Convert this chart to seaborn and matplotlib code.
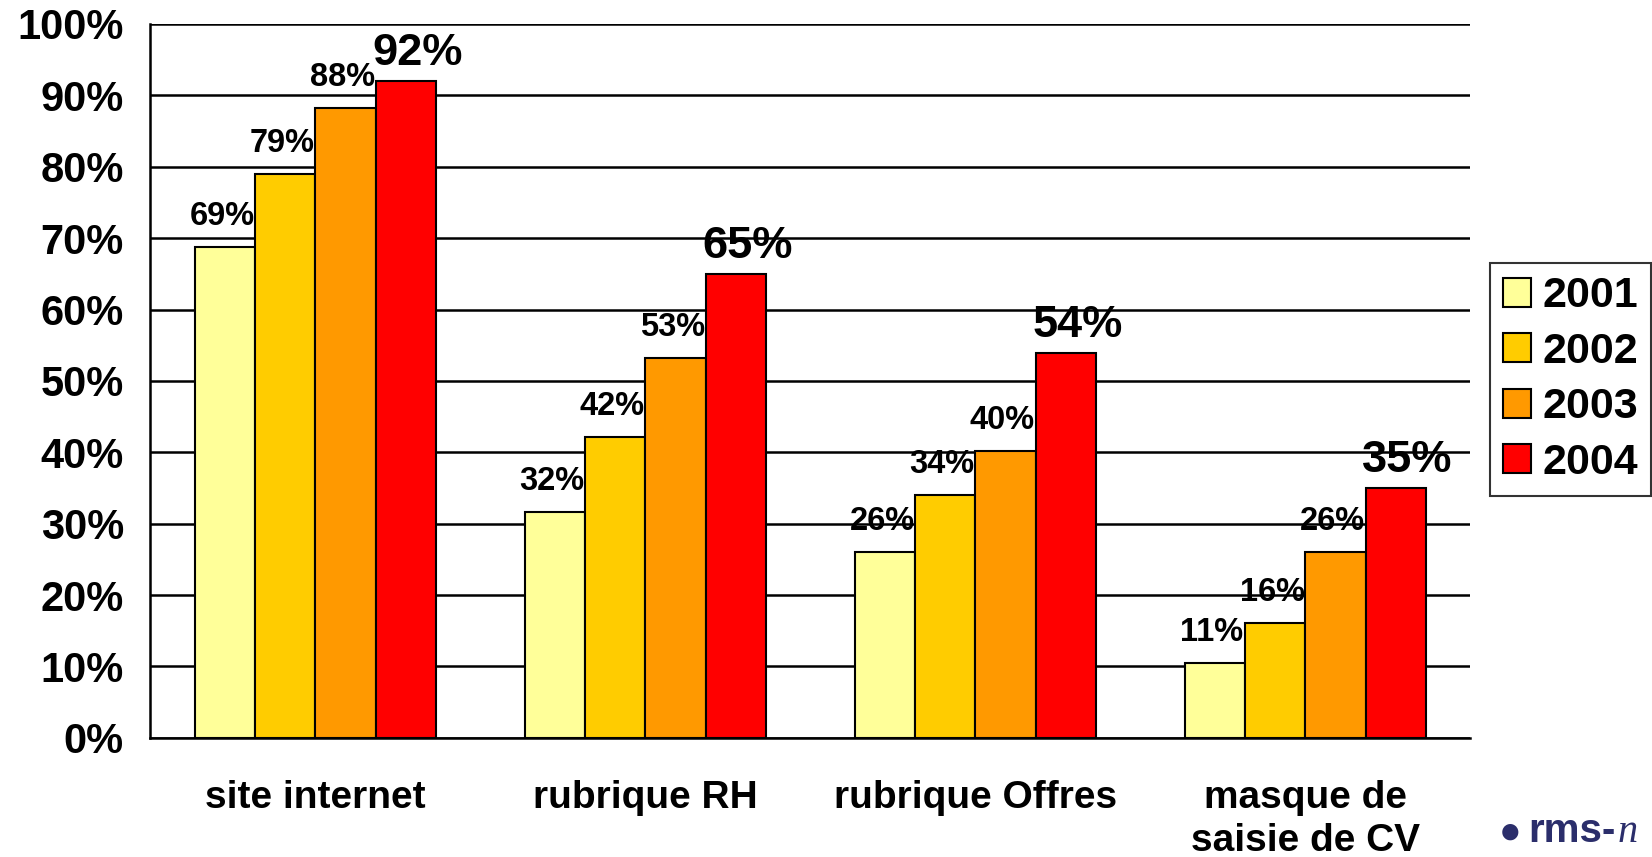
import pandas as pd
import seaborn as sns
import matplotlib.pyplot as plt

# Data
categories = ['site internet', 'rubrique RH', 'rubrique Offres', 'masque de\nsaisie de CV']
years = ['2001', '2002', '2003', '2004']
v2001 = [68.7, 31.6, 26.0, 10.5]
v2002 = [79.0, 42.2, 34.0, 16.1]
v2003 = [88.2, 53.2, 40.2, 26.0]
v2004 = [92.0, 65.0, 53.9, 35.0]
labels2001 = ['69%', '32%', '26%', '11%']
labels2002 = ['79%', '42%', '34%', '16%']
labels2003 = ['88%', '53%', '40%', '26%']
labels2004 = ['92%', '65%', '54%', '35%']
colors = ['#FFFF99', '#FFCC00', '#FF9900', '#FF0000']

rows = []
for year, vals in zip(years, [v2001, v2002, v2003, v2004]):
    for cat, v in zip(categories, vals):
        rows.append({'categorie': cat, 'annee': year, 'valeur': v})
df = pd.DataFrame(rows)

sns.set_style('white')
plt.rcParams['font.family'] = ['Liberation Sans', 'DejaVu Sans']
plt.rcParams['font.weight'] = 'bold'
plt.rcParams['text.color'] = 'black'
plt.rcParams['xtick.color'] = 'black'
plt.rcParams['ytick.color'] = 'black'
plt.rcParams['axes.labelcolor'] = 'black'

fig = plt.figure(figsize=(16.52, 8.57), dpi=100)
ax = fig.add_axes([0.091, 0.139, 0.799, 0.833])

sns.barplot(data=df, x='categorie', y='valeur', hue='annee', palette=colors,
            saturation=1, width=0.73, edgecolor='black', linewidth=1.5,
            ax=ax, legend=True)

ax.set_ylim(0, 100)
ax.set_xlim(-0.5, 3.5)
ax.set_yticks(range(0, 101, 10))
ax.set_yticklabels([f'{t}%' for t in range(0, 101, 10)], fontsize=30, fontweight='bold')
ax.yaxis.grid(True, color='black', linewidth=1.8)
ax.set_axisbelow(True)
ax.set_xlabel('')
ax.set_ylabel('')

# category labels, tick marks at group boundaries
ax.set_xticks(range(len(categories)))
ax.set_xticklabels(categories, fontsize=28, fontweight='bold', linespacing=1.25)
ax.set_xticks([-0.5, 0.5, 1.5, 2.5, 3.5], minor=True)
ax.tick_params(axis='x', which='major', length=0, pad=30)
ax.tick_params(axis='x', which='minor', length=12, width=1.5, color='black', direction='out')
ax.tick_params(axis='y', length=8, width=1.5, color='black', direction='out', pad=11)

for s in ['top', 'right']:
    ax.spines[s].set_visible(False)
ax.spines['left'].set_color('black')
ax.spines['left'].set_linewidth(1.8)
ax.spines['bottom'].set_color('black')
ax.spines['bottom'].set_linewidth(1.8)

# value labels
all_labels = [labels2001, labels2002, labels2003, labels2004]
for i, cont in enumerate(ax.containers):
    big = i == 3
    for patch, lab in zip(cont.patches, all_labels[i]):
        x = patch.get_x() + patch.get_width() / 2
        y = patch.get_height()
        ax.annotate(lab, (x, y), xytext=(12 if big else -3, 7 if big else 15),
                    textcoords='offset pixels', ha='center', va='bottom',
                    fontsize=32.5 if big else 23.5, fontweight='bold',
                    annotation_clip=False)

leg = ax.legend(loc='center left', bbox_to_anchor=(0.902, 0.557),
                bbox_transform=fig.transFigure, fontsize=31, frameon=True,
                fancybox=False, edgecolor='black', handlelength=0.65,
                handleheight=0.65, handletextpad=0.27, labelspacing=0.36,
                borderpad=0.3, borderaxespad=0)
leg.get_frame().set_linewidth(1.5)
for t in leg.get_texts():
    t.set_fontweight('bold')
for h in leg.legend_handles:
    h.set_edgecolor('black')
    h.set_linewidth(1.5)

# logo fragment bottom right (cut by the page edge in the original)
navy = '#2B2E6B'
fig.text(0.907, 0.017, '\u25cf', color=navy, fontsize=27, ha='left', va='baseline')
rms = fig.text(0.925, 0.017, 'rms-', color=navy, fontsize=29, fontweight='bold',
               ha='left', va='baseline')
fig.canvas.draw()
bb = rms.get_window_extent().transformed(fig.transFigure.inverted())
fig.text(bb.x1 + 0.001, 0.017, 'n', color=navy, fontsize=29, style='italic',
         family='Liberation Serif', fontweight='normal', ha='left', va='baseline')

plt.savefig('out.png', dpi=100)
